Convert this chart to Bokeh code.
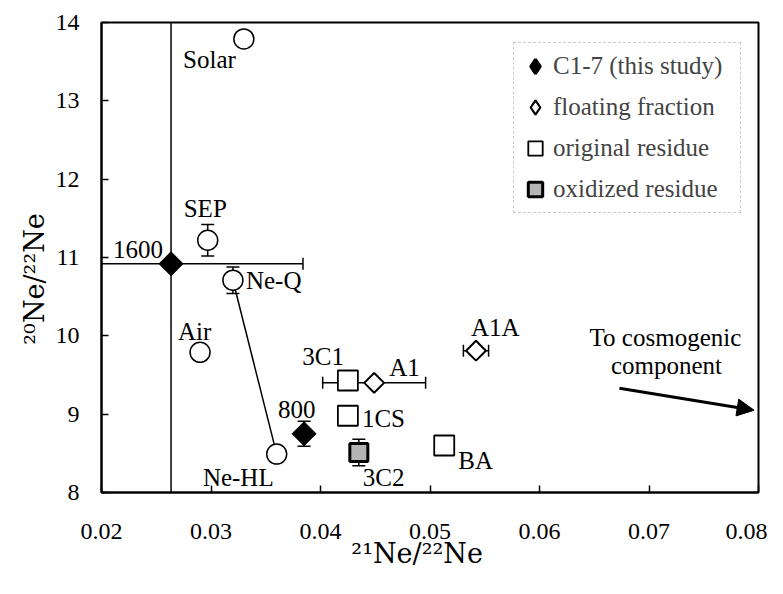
import numpy as np
from bokeh.plotting import figure
from bokeh.models import (ColumnDataSource, Whisker, TeeHead, Arrow, NormalHead,
                          Legend, LegendItem, FixedTicker, Range1d)
from bokeh.core.properties import value
from bokeh.embed import file_html
from bokeh.resources import INLINE

FONT = "Liberation Serif"
TITLE_FONT = "DejaVu Serif"
NB = "\u00a0"

# ---------------- data ----------------
# reference components (open circles)
ref_names = ["Solar", "SEP", "Ne-Q", "Air", "Ne-HL"]
ref_x = [0.0330, 0.0297, 0.0320, 0.0290, 0.0360]
ref_y = [13.79, 11.22, 10.71, 9.79, 8.49]
ref_yerr = [0.0, 0.20, 0.17, 0.0, 0.0]

# C1-7 (this study), filled diamonds
c17_names = ["1600", "800"]
c17_x = [0.02635, 0.0385]
c17_y = [10.92, 8.75]
c17_yerr = [0.0, 0.16]
# wide uncertainty of the 1600 step
c17_1600_xlo = [0.0188]
c17_1600_xhi = [0.0384]
c17_1600_ylo = [7.85]
c17_1600_yhi = [14.15]

# floating fraction, open diamonds
float_names = ["A1", "A1A"]
float_x = [0.0449, 0.0542]
float_y = [9.40, 9.81]
float_xerr = [0.0047, 0.00115]

# original residue, open squares
orig_names = ["3C1", "1CS", "BA"]
orig_x = [0.0425, 0.0425, 0.0513]
orig_y = [9.43, 8.98, 8.60]

# oxidized residue, grey square
oxid_names = ["3C2"]
oxid_x = [0.0435]
oxid_y = [8.51]
oxid_yerr = [0.17]

# arrow toward the cosmogenic component
arrow_x = [0.0673, 0.0796]
arrow_y = [9.33, 9.05]
note_lines = ["To cosmogenic", "component"]
note_x = [0.0715, 0.0716]
note_y = [9.98, 9.62]

x_ticks = [0.02, 0.03, 0.04, 0.05, 0.06, 0.07, 0.08]
x_tick_labels = ["0.02", "0.03", "0.04", "0.05", "0.06", "0.07", "0.08"]
y_ticks = [8, 9, 10, 11, 12, 13, 14]
y_tick_labels = ["8", "9", "10", "11", "12", "13", "14"]

x_title = "\u00b2\u00b9Ne/\u00b2\u00b2Ne" + NB * 3
y_title = "\u00b2\u2070Ne/\u00b2\u00b2Ne" + NB * 5

# ---------------- figure ----------------
p = figure(width=767, height=578, x_range=Range1d(0.02, 0.08), y_range=Range1d(8, 14),
           output_backend="svg", toolbar_location=None,
           min_border_left=101, min_border_right=9, min_border_top=22, min_border_bottom=86)
p.background_fill_color = "white"
p.border_fill_color = "white"
p.outline_line_color = "black"
p.outline_line_width = 2
p.xgrid.visible = False
p.ygrid.visible = False

p.xaxis.ticker = FixedTicker(ticks=x_ticks)
p.xaxis.major_label_overrides = {t: l for t, l in zip(x_ticks, x_tick_labels)}
p.yaxis.ticker = FixedTicker(ticks=y_ticks)
p.yaxis.major_label_overrides = {t: l for t, l in zip(y_ticks, y_tick_labels)}
for ax in (p.xaxis, p.yaxis):
    ax.axis_line_width = 2
    ax.axis_line_color = "black"
    ax.major_tick_in = 7
    ax.major_tick_out = 0
    ax.major_tick_line_width = 1.5
    ax.minor_tick_line_color = None
    ax.major_label_text_font = FONT
    ax.major_label_text_font_size = "24px"
    ax.major_label_text_color = "black"
    ax.axis_label_text_font = TITLE_FONT
    ax.axis_label_text_font_size = "27px"
    ax.axis_label_text_font_style = "normal"
    ax.axis_label_text_color = "black"
p.xaxis.major_label_standoff = 31
p.yaxis.major_label_standoff = 22
p.xaxis.axis_label = x_title
p.yaxis.axis_label = y_title
p.xaxis.axis_label_standoff = -4
p.yaxis.axis_label_standoff = 3

LW = 1.5

# error bars
def vwhisk(base, lo, hi, heads=True):
    src = ColumnDataSource(dict(base=base, lower=lo, upper=hi))
    w = Whisker(source=src, base="base", lower="lower", upper="upper", dimension="height",
                line_width=LW, line_color="black",
                lower_head=TeeHead(size=13, line_width=LW) if heads else None,
                upper_head=TeeHead(size=13, line_width=LW) if heads else None)
    p.add_layout(w)

def hwhisk(base, lo, hi, lower_head=True):
    src = ColumnDataSource(dict(base=base, lower=lo, upper=hi))
    w = Whisker(source=src, base="base", lower="lower", upper="upper", dimension="width",
                line_width=LW, line_color="black",
                lower_head=TeeHead(size=12, line_width=LW) if lower_head else None,
                upper_head=TeeHead(size=12, line_width=LW))
    p.add_layout(w)

ry = [(x, y, e) for x, y, e in zip(ref_x, ref_y, ref_yerr) if e > 0]
vwhisk([r[0] for r in ry], [r[1] - r[2] for r in ry], [r[1] + r[2] for r in ry])
vwhisk([c17_x[1]], [c17_y[1] - c17_yerr[1]], [c17_y[1] + c17_yerr[1]])
vwhisk(oxid_x, [y - e for y, e in zip(oxid_y, oxid_yerr)], [y + e for y, e in zip(oxid_y, oxid_yerr)])
hwhisk(float_y, [x - e for x, e in zip(float_x, float_xerr)], [x + e for x, e in zip(float_x, float_xerr)])
hwhisk([c17_y[0]], c17_1600_xlo, c17_1600_xhi, lower_head=False)
vwhisk([c17_x[0]], c17_1600_ylo, c17_1600_yhi, heads=False)

# Ne-Q -- Ne-HL mixing line
p.line(x=[ref_x[2], ref_x[4]], y=[ref_y[2], ref_y[4]], line_color="black", line_width=LW)

# markers
p.scatter(x=ref_x, y=ref_y, marker="circle", size=20, fill_color="white",
          line_color="black", line_width=LW)
# diamond glyphs that give the legend swatches (hidden under the rotated squares below)
leg_c17 = p.scatter(x=c17_x, y=c17_y, marker="diamond", size=15, fill_color="black",
                    line_color="black", line_width=3)
leg_float = p.scatter(x=float_x, y=float_y, marker="diamond", size=13, fill_color="white",
                      line_color="black", line_width=2.2)
p.scatter(x=c17_x, y=c17_y, marker="square", angle=np.pi / 4, size=17,
          fill_color="black", line_color="black", line_width=1)
p.scatter(x=float_x, y=float_y, marker="square", angle=np.pi / 4, size=14,
          fill_color="white", line_color="black", line_width=2)
r_orig = p.scatter(x=orig_x, y=orig_y, marker="square", size=20, fill_color="white",
                   line_color="black", line_width=1.8)
r_oxid = p.scatter(x=oxid_x, y=oxid_y, marker="square", size=18, fill_color="#b4b4b4",
                   line_color="black", line_width=3)

# point labels (offsets in screen px)
lab_left = dict(
    text=["SEP", "Ne-Q", "Air", "800", "A1", "A1A", "1CS", "BA", "3C2"],
    x=[ref_x[1], ref_x[2], ref_x[3], c17_x[1], float_x[0], float_x[1], orig_x[1], orig_x[2], oxid_x[0]],
    y=[ref_y[1], ref_y[2], ref_y[3], c17_y[1], float_y[0], float_y[1], orig_y[1], orig_y[2], oxid_y[0]],
    dx=[-24, 13, -22, -26, 15, -5, 14, 14, 4],
    dy=[-32, 0, -21, -24, -15, -23, 3, 15, 25],
)
lab_right = dict(
    text=["Solar", "Ne-HL", "1600", "3C1"],
    x=[ref_x[0], ref_x[4], c17_x[0], orig_x[0]],
    y=[ref_y[0], ref_y[4], c17_y[0], orig_y[0]],
    dx=[-8, -3, -8, -4],
    dy=[21, 23, -14, -24],
)
for lab, al in ((lab_left, "left"), (lab_right, "right")):
    p.text(x="x", y="y", text="text", x_offset="dx", y_offset="dy",
           source=ColumnDataSource(lab), text_font=value(FONT), text_font_size="25px",
           text_color="black", text_align=al, text_baseline="middle")

p.text(x=note_x, y=note_y, text=note_lines, text_font=value(FONT), text_font_size="25px",
       text_color="black", text_align="center", text_baseline="middle")

p.add_layout(Arrow(x_start=arrow_x[0], y_start=arrow_y[0], x_end=arrow_x[1], y_end=arrow_y[1],
                   line_width=3, line_color="black",
                   end=NormalHead(size=17, fill_color="black", line_color="black")))

# legend
legend = Legend(items=[LegendItem(label="C1-7 (this study)", renderers=[leg_c17]),
                       LegendItem(label="floating fraction", renderers=[leg_float]),
                       LegendItem(label="original residue", renderers=[r_orig]),
                       LegendItem(label="oxidized residue", renderers=[r_oxid])],
                location=(412, 279), label_text_font=FONT, label_text_font_size="25px",
                glyph_width=36, glyph_height=40, label_standoff=0, padding=3, spacing=1,
                margin=0, label_width=184, border_line_color="#999999",
                border_line_dash="3 3", border_line_width=1, background_fill_color="white")
p.add_layout(legend)

open("out.html", "w").write(file_html(p, INLINE))
